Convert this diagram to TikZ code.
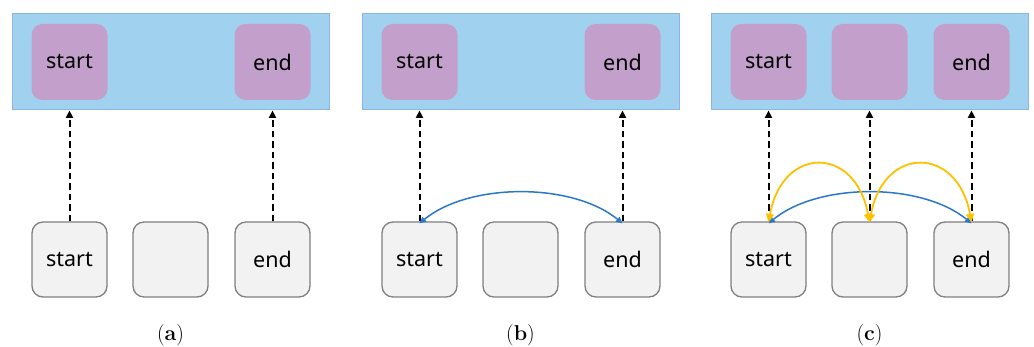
\documentclass[tikz,border=0pt]{standalone}
\usepackage{fontspec}
\newfontfamily\boxfont{Noto Sans}
\usetikzlibrary{arrows.meta}
\definecolor{panelblue}{HTML}{A0D2EF}
\definecolor{panelborder}{HTML}{8EB4E3}
\definecolor{boxpurple}{HTML}{C3A0CB}
\definecolor{boxgray}{HTML}{F2F2F2}
\definecolor{boxline}{HTML}{808080}
\definecolor{arcblue}{HTML}{2A78CC}
\definecolor{arcyellow}{HTML}{FFC000}
\begin{document}
\begin{tikzpicture}[x=1pt,y=-1pt,
  panel/.style={draw=panelborder, fill=panelblue, line width=1.4pt,
    minimum width=317pt, minimum height=96pt, inner sep=0pt},
  membox/.style={fill=boxpurple, rounded corners=11pt, minimum size=76pt,
    inner sep=0pt, font=\boxfont\fontsize{21.5}{24}\selectfont},
  cellbox/.style={draw=boxline, fill=boxgray, line width=1.3pt,
    rounded corners=11pt, minimum size=75pt, inner sep=0pt,
    font=\boxfont\fontsize{21.5}{24}\selectfont},
  link/.style={dash pattern=on 6.5pt off 4pt, line width=2pt,
    -{Triangle[width=7pt,length=7.5pt]}},
  bluearc/.style={draw=arcblue, line width=1.5pt,
    {Triangle[width=6pt,length=6.5pt]}-{Triangle[width=6pt,length=6.5pt]}},
  yellowarc/.style={draw=arcyellow, line width=1.8pt,
    {Triangle[width=8pt,length=8.5pt]}-{Triangle[width=8pt,length=8.5pt]}},
  caption/.style={font=\fontsize{21.5}{24}\selectfont, inner sep=0pt}]
\useasboundingbox[fill=white] (0,0) rectangle (1034,347);

\foreach \p/\o in {a/0,b/350,c/699}{
  \node[panel] (\p-rect) at (\o+170.75,61.75) {};
  \node[membox] (\p-ts) at (\o+69.5,62) {start};
  \node[membox] (\p-te) at (\o+272.5,62) {end};
  \node[cellbox] (\p-bs) at (\o+69.5,259.5) {start};
  \node[cellbox] (\p-bm) at (\o+170.5,259.5) {};
  \node[cellbox] (\p-be) at (\o+272.5,259.5) {end};
  \node[caption] (\p-cap) at (\o+170.5,335) {(\textbf{\p})};
  \draw[link] (\p-bs.north) -- (\p-bs.north |- \p-rect.south);
  \draw[link] (\p-be.north) -- (\p-be.north |- \p-rect.south);
}
\node[membox] (c-tm) at (699+170.5,62) {};
\draw[link] (c-bm.north) -- (c-bm.north |- c-rect.south);

% panel b
\draw[bluearc] ([yshift=-2pt]b-bs.north) .. controls +(50,-41) and +(-50,-41) .. ([yshift=-2pt]b-be.north);

% panel c
\draw[bluearc] ([yshift=-2pt]c-bs.north) .. controls +(50,-41) and +(-50,-41) .. ([yshift=-2pt]c-be.north);
\draw[yellowarc] ([yshift=-1pt]c-bs.north) .. controls +(14,-77) and +(-14,-77) .. ([yshift=-1pt]c-bm.north);
\draw[yellowarc] ([yshift=-1pt]c-bm.north) .. controls +(14,-77) and +(-14,-77) .. ([yshift=-1pt]c-be.north);
\end{tikzpicture}
\end{document}
